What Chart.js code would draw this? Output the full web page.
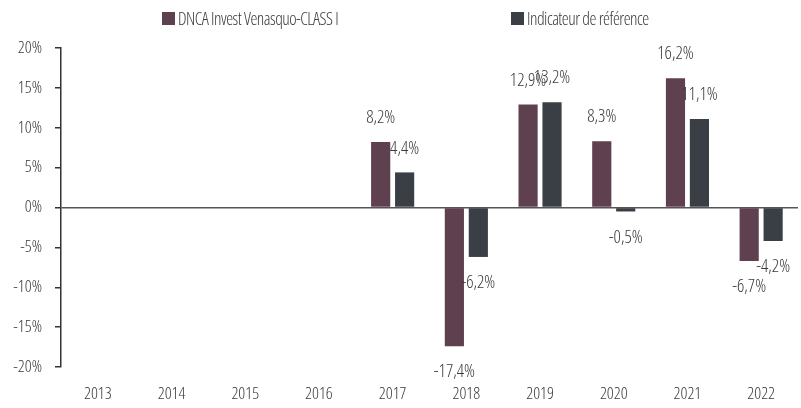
<!DOCTYPE html>
<html>
<head>
<meta charset="utf-8">
<script src="https://cdn.jsdelivr.net/npm/chart.js@4.4.1/dist/chart.umd.min.js"></script>
<style>
  body{ margin:0; background:#fff; }
  .wrap{ position:relative; width:801px; height:408px; }
  .lg{ position:absolute; top:6px; display:flex; align-items:center; font:300 17.5px "Open Sans",sans-serif; font-stretch:extra-condensed; color:#3a3a3a; letter-spacing:-0.5px; }
  .lg i{ display:inline-block; width:13px; height:13px; margin-right:3px; }
</style>
</head>
<body>
<div class="wrap">
  <canvas id="c" width="801" height="408"></canvas>
  <div class="lg" style="left:162px"><i style="background:#5f404f"></i>DNCA Invest Venasquo-CLASS I</div>
  <div class="lg" style="left:511px"><i style="background:#3a3e45"></i>Indicateur de référence</div>
</div>
<script>
// données
const annees = ['2013','2014','2015','2016','2017','2018','2019','2020','2021','2022'];
const fonds  = [null, null, null, null, 8.2, -17.4, 12.9, 8.3, 16.2, -6.7];
const indice = [null, null, null, null, 4.4, -6.2, 13.2, -0.5, 11.1, -4.2];
const yTicks = [-20, -15, -10, -5, 0, 5, 10, 15, 20];

// police étroite (Open Sans variable, largeur condensée)
const FAMILY = '"Open Sans",sans-serif';
const WEIGHT = '300 extra-condensed';
const fmt = v => v.toFixed(1).replace('.', ',') + '%';

// étiquettes au bout des barres
const barLabels = {
  id:'barLabels',
  afterDatasetsDraw(chart){
    const ctx = chart.ctx;
    ctx.save();
    ctx.font = WEIGHT + ' 18px ' + FAMILY;
    ctx.fillStyle = '#3a3a3a';
    ctx.textAlign = 'center';
    ctx.textBaseline = 'middle';
    chart.data.datasets.forEach((ds, i) => {
      chart.getDatasetMeta(i).data.forEach((bar, j) => {
        const v = ds.data[j];
        if (v === null) return;
        const y = v >= 0 ? bar.y - 24 : bar.y + 26;
        ctx.fillText(fmt(v), bar.x, y);
      });
    });
    ctx.restore();
  }
};

new Chart(document.getElementById('c'), {
  type:'bar',
  data:{
    labels: annees,
    datasets:[
      { label:'DNCA Invest Venasquo-CLASS I', data: fonds, backgroundColor:'#5f404f',
        barPercentage:0.8, categoryPercentage:0.65 },
      { label:'Indicateur de référence', data: indice, backgroundColor:'#3a3e45',
        barPercentage:0.8, categoryPercentage:0.65 }
    ]
  },
  options:{
    responsive:false, animation:false,
    layout:{ padding:{ top:48, right:3, bottom:0, left:0 } },
    plugins:{ legend:{ display:false }, tooltip:{ enabled:false } },
    scales:{
      x:{
        afterFit(s){ s.height = 41; },
        grid:{ display:false }, border:{ display:false },
        ticks:{ padding:9, color:'#3a3a3a', font:{ family:FAMILY, weight:WEIGHT, size:17 } }
      },
      y:{
        min:-20, max:20,
        afterFit(s){ s.width = 61; },
        afterBuildTicks(s){ s.ticks = yTicks.map(v => ({ value:v })); },
        border:{ display:true, color:'#333', width:1.5 },
        grid:{
          color: c => c.tick && c.tick.value === 0 ? '#555' : 'rgba(0,0,0,0)',
          lineWidth:1.5, tickColor:'#333', tickLength:6
        },
        ticks:{ padding:13, color:'#3a3a3a', font:{ family:FAMILY, weight:WEIGHT, size:17 }, callback: v => v + '%' }
      }
    }
  },
  plugins:[barLabels]
});
</script>
</body>
</html>
